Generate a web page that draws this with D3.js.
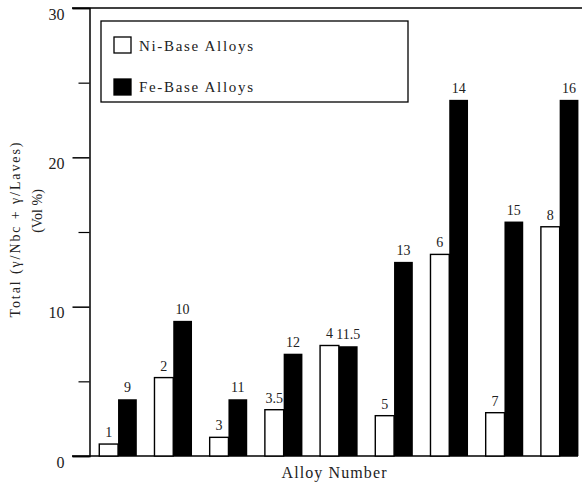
<!DOCTYPE html>
<html>
<head>
<meta charset="utf-8">
<script src="https://d3js.org/d3.v7.min.js"></script>
<style>
  body { margin: 0; background: #fff; }
  svg { display: block; font-family: "Liberation Serif", "DejaVu Serif", serif; }
</style>
</head>
<body>
<div id="chart"></div>
<script>
"use strict";

// data
var groups = ["g1", "g2", "g3", "g4", "g5", "g6", "g7", "g8", "g9"];
var niLabels = ["1", "2", "3", "3.5", "4", "5", "6", "7", "8"];
var feLabels = ["9", "10", "11", "12", "11.5", "13", "14", "15", "16"];
var niValues = [0.8, 5.25, 1.25, 3.1, 7.4, 2.7, 13.5, 2.9, 15.35];
var feValues = [3.8, 9.05, 3.8, 6.85, 7.35, 13.0, 23.85, 15.7, 23.85];
var yMajorTicks = [0, 10, 20, 30];
var yMinorTicks = [5, 15, 25];
var seriesNames = ["Ni-Base Alloys", "Fe-Base Alloys"];

(function() {
  var width, height, svg, x, xInner, y, bars, legend;

  width = 582;
  height = 488;

  svg = d3.select("#chart").append("svg")
    .attr("width", width)
    .attr("height", height);

  // scales
  x = d3.scaleBand()
    .domain(groups)
    .range([90, 587.7])
    .paddingInner(0.32)
    .paddingOuter(0.168);

  xInner = d3.scaleBand()
    .domain(["ni", "fe"])
    .range([0, x.bandwidth()]);

  y = d3.scaleLinear()
    .domain([0, 30])
    .range([456, 8]);

  // frame lines (top and bottom)
  svg.append("line")
    .attr("x1", 72).attr("x2", 582)
    .attr("y1", y(30)).attr("y2", y(30))
    .attr("stroke", "#000").attr("stroke-width", 1.5);

  svg.append("line")
    .attr("x1", 72).attr("x2", 578)
    .attr("y1", y(0)).attr("y2", y(0))
    .attr("stroke", "#000").attr("stroke-width", 1.5);

  // y axis, major ticks with labels
  var yAxis = svg.append("g")
    .attr("transform", "translate(89.5,0)")
    .call(d3.axisLeft(y).tickValues(yMajorTicks).tickSize(17).tickPadding(8).tickFormat(d3.format("d")));
  yAxis.select(".domain").attr("stroke-width", 1.5);
  yAxis.selectAll(".tick line").attr("stroke-width", 1.5);
  yAxis.selectAll(".tick text")
    .attr("dy", "0.95em")
    .attr("y", -4)
    .style("font-family", "'Liberation Serif', serif")
    .style("font-size", "16px")
    .attr("fill", "#222");

  // minor ticks
  var yMinor = svg.append("g")
    .attr("transform", "translate(89.5,0)")
    .call(d3.axisLeft(y).tickValues(yMinorTicks).tickSize(11).tickFormat(""));
  yMinor.select(".domain").remove();
  yMinor.selectAll(".tick line").attr("stroke-width", 1.2);

  // bars
  bars = svg.append("g").selectAll("g")
    .data(groups)
    .enter()
    .append("g")
    .attr("transform", function(d) { return "translate(" + x(d) + ",0)"; });

  bars.append("rect")
    .attr("x", xInner("ni"))
    .attr("y", function(d, i) { return y(niValues[i]); })
    .attr("width", xInner.bandwidth())
    .attr("height", function(d, i) { return y(0) - y(niValues[i]); })
    .attr("fill", "#fff")
    .attr("stroke", "#000")
    .attr("stroke-width", 1.4);

  bars.append("rect")
    .attr("x", xInner("fe"))
    .attr("y", function(d, i) { return y(feValues[i]); })
    .attr("width", xInner.bandwidth())
    .attr("height", function(d, i) { return y(0) - y(feValues[i]); })
    .attr("fill", "#000");

  bars.append("text")
    .attr("x", xInner("ni") + xInner.bandwidth() / 2)
    .attr("y", function(d, i) { return y(niValues[i]) - 7; })
    .attr("text-anchor", "middle")
    .style("font-size", "14px")
    .attr("fill", "#222")
    .text(function(d, i) { return niLabels[i]; });

  bars.append("text")
    .attr("x", xInner("fe") + xInner.bandwidth() / 2)
    .attr("y", function(d, i) { return y(feValues[i]) - 7; })
    .attr("text-anchor", "middle")
    .style("font-size", "14px")
    .attr("fill", "#222")
    .text(function(d, i) { return feLabels[i]; });

  // legend
  legend = svg.append("g");
  legend.append("rect")
    .attr("x", 101).attr("y", 21)
    .attr("width", 307).attr("height", 81)
    .attr("fill", "#fff")
    .attr("stroke", "#000")
    .attr("stroke-width", 1.3);

  legend.selectAll(".swatch")
    .data(seriesNames)
    .enter()
    .append("rect")
    .attr("class", "swatch")
    .attr("x", 114)
    .attr("y", function(d, i) { return 37 + i * 42; })
    .attr("width", 17)
    .attr("height", 16)
    .attr("fill", function(d, i) { return i === 0 ? "#fff" : "#000"; })
    .attr("stroke", "#000")
    .attr("stroke-width", 1.3);

  legend.selectAll(".label")
    .data(seriesNames)
    .enter()
    .append("text")
    .attr("class", "label")
    .attr("x", 139)
    .attr("y", function(d, i) { return 51 + i * 41; })
    .attr("textLength", 114)
    .style("font-size", "15px")
    .attr("fill", "#222")
    .text(function(d) { return d; });

  // axis titles
  svg.append("text")
    .attr("transform", "translate(20,230) rotate(-90)")
    .attr("text-anchor", "middle")
    .attr("textLength", 175)
    .style("font-size", "14px")
    .attr("fill", "#222")
    .text("Total (γ/Nbc + γ/Laves)");

  svg.append("text")
    .attr("transform", "translate(42,211) rotate(-90)")
    .attr("text-anchor", "middle")
    .style("font-size", "14px")
    .attr("fill", "#222")
    .text("(Vol %)");

  svg.append("text")
    .attr("x", 334)
    .attr("y", 478)
    .attr("text-anchor", "middle")
    .attr("textLength", 105)
    .style("font-size", "16px")
    .attr("fill", "#222")
    .text("Alloy Number");
})();
</script>
</body>
</html>
